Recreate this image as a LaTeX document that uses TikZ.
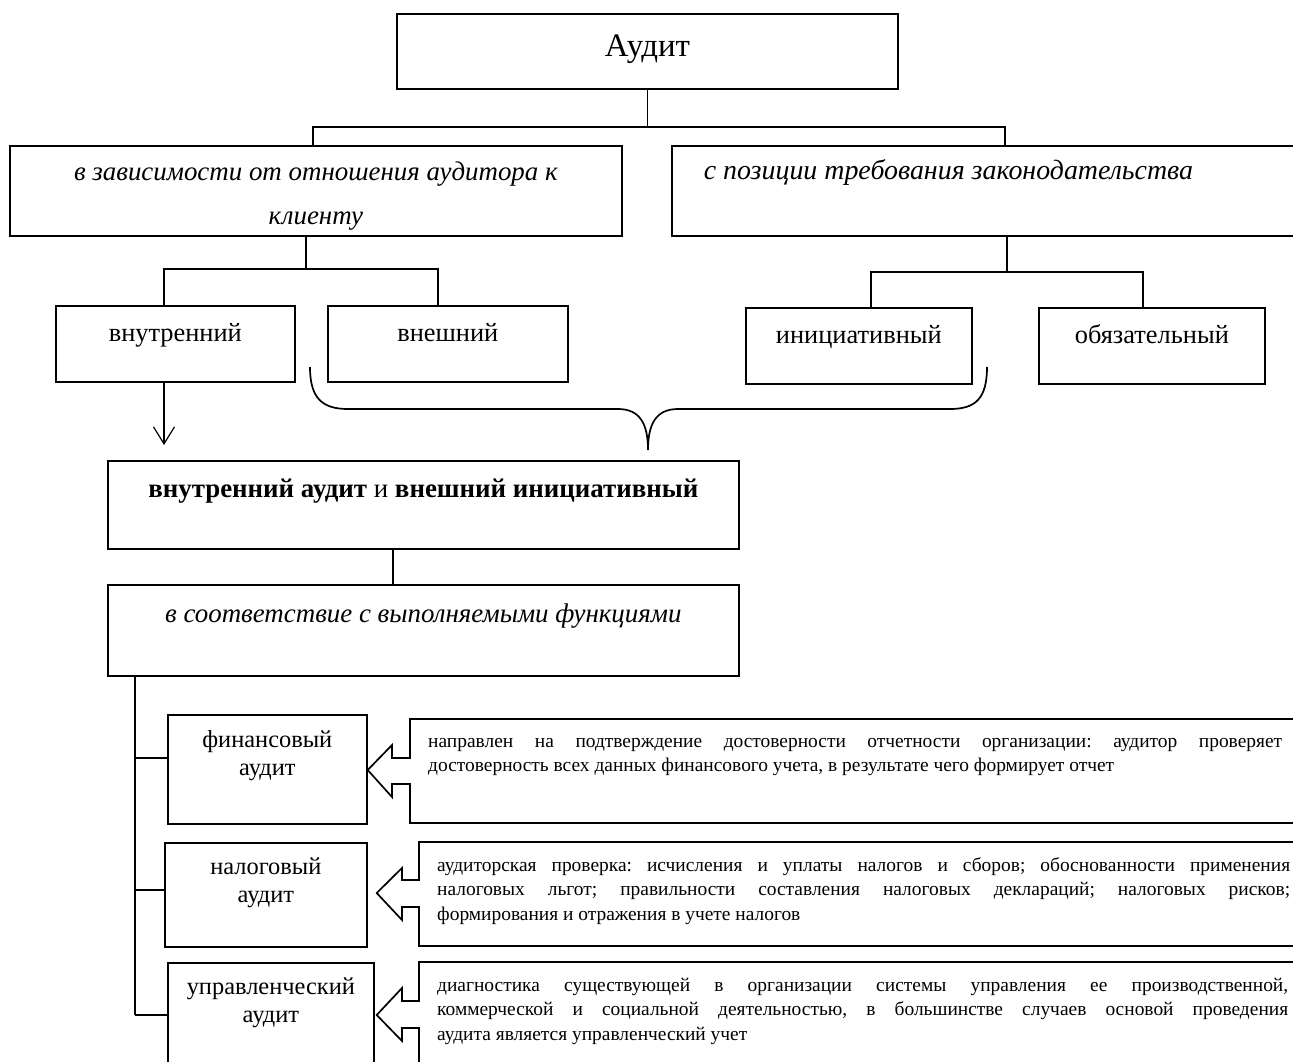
\documentclass[tikz,border=0pt]{standalone}
\usepackage{fontspec}
\setmainfont{Liberation Serif}
\usetikzlibrary{arrows.meta,calc}

% Box body: width, height, first baseline offset, font, text
\newcommand{\boxbody}[5]{\parbox[c][#2][t]{#1}{#4\vspace*{\dimexpr#3-0.7\baselineskip\relax}\centering\strut #5\par}}
\newcommand{\boxbodyL}[6]{\parbox[c][#2][t]{#1}{#4\vspace*{\dimexpr#3-0.7\baselineskip\relax}\raggedright\hspace*{#6}\strut #5\par}}

\begin{document}
\frenchspacing
\begin{tikzpicture}[x=1bp,y=-1bp,
  box/.style={draw, line width=1.7bp, inner sep=0pt, anchor=north west},
  wire/.style={line width=1.7bp, line join=miter},
  callout/.style={line width=1.7bp, line join=miter},
  barb/.style={line width=1.2bp, -{Straight Barb[length=17bp,width=21bp]}},
  desc/.style={inner sep=0pt, anchor=north west, align=justify,
    font=\fontsize{19.5}{24.5}\selectfont}]
\useasboundingbox (0,0) rectangle (1293,1062);
\clip (0,0) rectangle (1293,1062);

% ---- top level
\node[box] (root) at (396,13) {\boxbody{501bp}{75bp}{43bp}{\fontsize{33}{37}\selectfont}{Аудит}};

% ---- criteria
\node[box] (critA) at (9,145) {\boxbody{612bp}{90bp}{35bp}{\fontsize{27}{44}\selectfont\itshape}{в зависимости от отношения аудитора к\\клиенту}};
\node[box] (critB) at (671,145) {\boxbodyL{640bp}{90bp}{34bp}{\fontsize{28}{36}\selectfont\itshape}{с позиции требования законодательства}{32bp}};

% ---- kinds
\node[box] (inner) at (55,305) {\boxbody{239bp}{76bp}{36bp}{\fontsize{26.5}{30}\selectfont}{внутренний}};
\node[box] (outer) at (327,305) {\boxbody{240bp}{76bp}{36bp}{\fontsize{26.5}{30}\selectfont}{внешний}};
\node[box] (initv) at (745,307) {\boxbody{226bp}{76bp}{36bp}{\fontsize{26.5}{30}\selectfont}{инициативный}};
\node[box] (oblig) at (1038,307) {\boxbody{226bp}{76bp}{36bp}{\fontsize{26.5}{30}\selectfont}{обязательный}};

% ---- combined and functional split
\node[box] (both) at (107,460) {\boxbody{631bp}{88bp}{37bp}{\fontsize{27}{30}\selectfont}{\textbf{внутренний аудит} и \textbf{внешний инициативный}}};
\node[box] (funcs) at (107,584) {\boxbody{631bp}{91bp}{38bp}{\fontsize{27}{30}\selectfont\itshape}{в соответствие с выполняемыми функциями}};

% ---- audit types
\node[box] (fin) at (167,714) {\boxbody{199bp}{109bp}{33bp}{\fontsize{24.5}{28}\selectfont}{финансовый\\аудит}};
\node[box] (tax) at (164,842) {\boxbody{202bp}{104bp}{32bp}{\fontsize{24.5}{28}\selectfont}{налоговый\\аудит}};
\node[box] (mgmt) at (167,962) {\boxbody{206bp}{106bp}{32bp}{\fontsize{24.5}{28}\selectfont}{управленческий\\аудит}};

% ---- tree connectors
\coordinate (jL) at (313,127);
\coordinate (jR) at (1005,127);
\draw[wire] (root.south) -- (root.south |- jL);
\draw[wire] (jL |- critA.north) -- (jL) -- (jR) -- (jR |- critB.north);

\coordinate (k0) at (306,269);
\coordinate (kL) at (164,269);
\coordinate (kR) at (438,269);
\draw[wire] (k0 |- critA.south) -- (k0);
\draw[wire] (kL |- inner.north) -- (kL) -- (kR) -- (kR |- outer.north);

\coordinate (m0) at (1007,272);
\coordinate (mL) at (871,272);
\coordinate (mR) at (1143,272);
\draw[wire] (m0 |- critB.south) -- (m0);
\draw[wire] (mL |- initv.north) -- (mL) -- (mR) -- (mR |- oblig.north);

% arrow from the internal kind down to the combined box
\coordinate (aEnd) at (164,445);
\draw[barb] (kL |- inner.south) -- (aEnd);

% brace gathering external and initiative kinds
\coordinate (braceL) at (310,367);
\coordinate (braceR) at (987,367);
\coordinate (braceTip) at (648,450);
\draw[wire] (braceL) .. controls (310,398) and (322,409) .. (348,409) -- (618,409)
  .. controls (640,409) and (648,424) .. (braceTip)
  .. controls (648,424) and (656,409) .. (678,409) -- (950,409)
  .. controls (976,409) and (987,398) .. (braceR);

\coordinate (n0) at (393,560);
\draw[wire] (n0 |- both.south) -- (n0 |- funcs.north);

% trunk with ticks to the audit types
\coordinate (t0) at (135,700);
\coordinate (t1) at (135,758);
\coordinate (t2) at (135,890);
\coordinate (t3) at (135,1015);
\draw[wire] (t0 |- funcs.south) -- (t3);
\draw[wire] (t1) -- (t1 -| fin.west);
\draw[wire] (t2) -- (t2 -| tax.west);
\draw[wire] (t3) -- (t3 -| mgmt.west);

% ---- description callouts (frame with arrow pointing to the type box)
\draw[callout] (1310,719) -- (410,719) -- (410,758) -- (392,758) -- (392,745)
  -- (fin.east |- 0,770) -- (392,797) -- (392,784) -- (410,784) -- (410,823) -- (1310,823);
\draw[callout] (1310,842) -- (419,842) -- (419,880) -- (402,880) -- (402,868)
  -- ([xshift=9bp]tax.east |- 0,893) -- (402,920) -- (402,907) -- (419,907) -- (419,946) -- (1310,946);
\draw[callout] (1310,962) -- (419,962) -- (419,1001) -- (402,1001) -- (402,988)
  -- ([xshift=2bp]mgmt.east |- 0,1015) -- (402,1041) -- (402,1028) -- (419,1028) -- (419,1075);

\node[desc, text width=854bp] (finD) at (428,730) {\strut направлен на подтверждение достоверности отчетности организации: аудитор проверяет\linebreak достоверность всех данных финансового учета, в результате чего формирует отчет};
\node[desc, text width=853bp] (taxD) at (437,854) {\strut аудиторская проверка: исчисления и уплаты налогов и сборов; обоснованности применения\linebreak налоговых льгот; правильности составления налоговых деклараций; налоговых рисков;\linebreak формирования и отражения в учете налогов};
\node[desc, text width=851bp] (mgmtD) at (437,974) {\strut диагностика существующей в организации системы управления ее производственной,\linebreak коммерческой и социальной деятельностью, в большинстве случаев основой проведения\linebreak аудита является управленческий учет};
\end{tikzpicture}
\end{document}
